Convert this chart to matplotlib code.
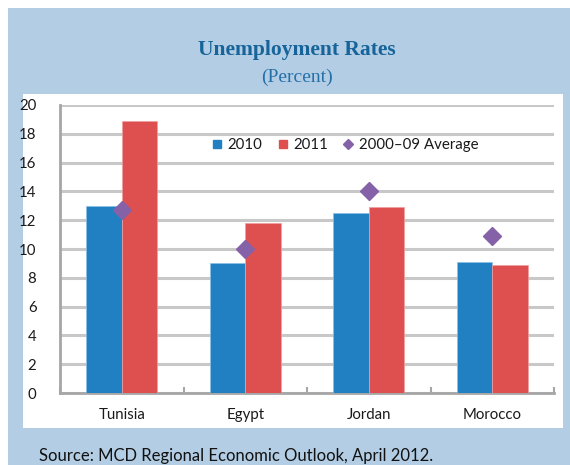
import matplotlib
matplotlib.use("Agg")
import matplotlib.pyplot as plt
from matplotlib.patches import Rectangle
from matplotlib.lines import Line2D
import numpy as np

categories = ["Tunisia", "Egypt", "Jordan", "Morocco"]
rate_2010 = [13.0, 9.0, 12.5, 9.1]
rate_2011 = [18.9, 11.8, 12.9, 8.9]
avg_2000_09 = [12.7, 10.0, 14.0, 10.9]
yticks = [0, 2, 4, 6, 8, 10, 12, 14, 16, 18, 20]
series_labels = ["2010", "2011", "2000\u201309 Average"]

BLUE = "#2180c2"
RED = "#de4f4f"
PURPLE = "#8562a8"
BG = "#b2cde4"
GRID = "#c8c8c8"
AXIS = "#a6a6a6"
TITLE_C = "#17649a"

W, H = 570, 465
fig = plt.figure(figsize=(W / 100, H / 100), dpi=100)
fig.patch.set_facecolor("white")

def fx(px):
    return px / W

def fy(py):
    return 1 - py / H

# blue frame
fig.patches.append(Rectangle((fx(8), 0), 1 - fx(8), fy(8), transform=fig.transFigure,
                             facecolor=BG, edgecolor="none", zorder=0))
# white panel
fig.patches.append(Rectangle((fx(23), fy(428)), fx(563) - fx(23), fy(94) - fy(428),
                             transform=fig.transFigure, facecolor="white",
                             edgecolor="none", zorder=1))

ax = fig.add_axes([fx(60), fy(393), fx(554) - fx(60), fy(105) - fy(393)])
ax.set_facecolor("none")
ax.set_zorder(2)

x = np.arange(len(categories))
w = 0.2875
ax.bar(x - w / 2, rate_2010, width=w, color=BLUE, edgecolor="#8cc0e6", linewidth=0.5, zorder=3)
ax.bar(x + w / 2, rate_2011, width=w, color=RED, edgecolor="#f0a0a0", linewidth=0.5, zorder=3)
ax.plot(x, avg_2000_09, linestyle="none", marker="D", markersize=9.5, color=PURPLE,
        markeredgecolor=PURPLE, zorder=4)

ax.set_xlim(-0.5, len(categories) - 0.5)
ax.set_ylim(0, 20)
ax.set_yticks(yticks)
ax.set_yticklabels([str(v) for v in yticks])
ax.yaxis.grid(True, color=GRID, linewidth=2.2, zorder=0)
ax.set_axisbelow(True)
ax.tick_params(axis="y", length=0, pad=17, labelsize=10.8, labelcolor="#1a1a1a")
for lab in ax.get_yticklabels():
    lab.set_fontfamily(["Lato", "DejaVu Sans"])
    lab.set_horizontalalignment("right")

ax.set_xticks(x)
ax.set_xticklabels(categories, fontsize=10.8, color="#1a1a1a", family=["Lato", "DejaVu Sans"])
ax.tick_params(axis="x", which="major", length=0, pad=11)
ax.set_xticks(np.arange(-0.5, len(categories) + 0.5, 1.0), minor=True)
ax.tick_params(axis="x", which="minor", direction="in", length=4.5, width=1.5, color=AXIS)

for s in ["top", "right"]:
    ax.spines[s].set_visible(False)
for s in ["left", "bottom"]:
    ax.spines[s].set_color(AXIS)
    ax.spines[s].set_linewidth(2.0)

handles = [
    Line2D([], [], linestyle="none", marker="s", markersize=5.5, color=BLUE),
    Line2D([], [], linestyle="none", marker="s", markersize=5.5, color=RED),
    Line2D([], [], linestyle="none", marker="D", markersize=4.6, color=PURPLE),
]
leg = ax.legend(handles, series_labels, loc="center", bbox_to_anchor=(0.578, 0.861), ncol=3,
                frameon=False, handlelength=0.6, handletextpad=0.4, columnspacing=1.05,
                prop={"family": ["Lato", "DejaVu Sans"], "size": 10.8})
for t in leg.get_texts():
    t.set_color("#1a1a1a")

fig.text(fx(297), fy(50), "Unemployment Rates", ha="center", va="center",
         family=["Liberation Serif", "DejaVu Serif"], weight="bold", fontsize=15.5,
         color=TITLE_C)
fig.text(fx(297), fy(77), "(Percent)", ha="center", va="center",
         family=["Liberation Serif", "DejaVu Serif"], fontsize=14, color="#2670a8")
fig.text(fx(39), fy(456), "Source: MCD Regional Economic Outlook, April 2012.", ha="left",
         va="center", family=["Lato", "DejaVu Sans"], fontsize=12, color="#111111")

fig.savefig("out.png", dpi=100, facecolor=fig.get_facecolor())
